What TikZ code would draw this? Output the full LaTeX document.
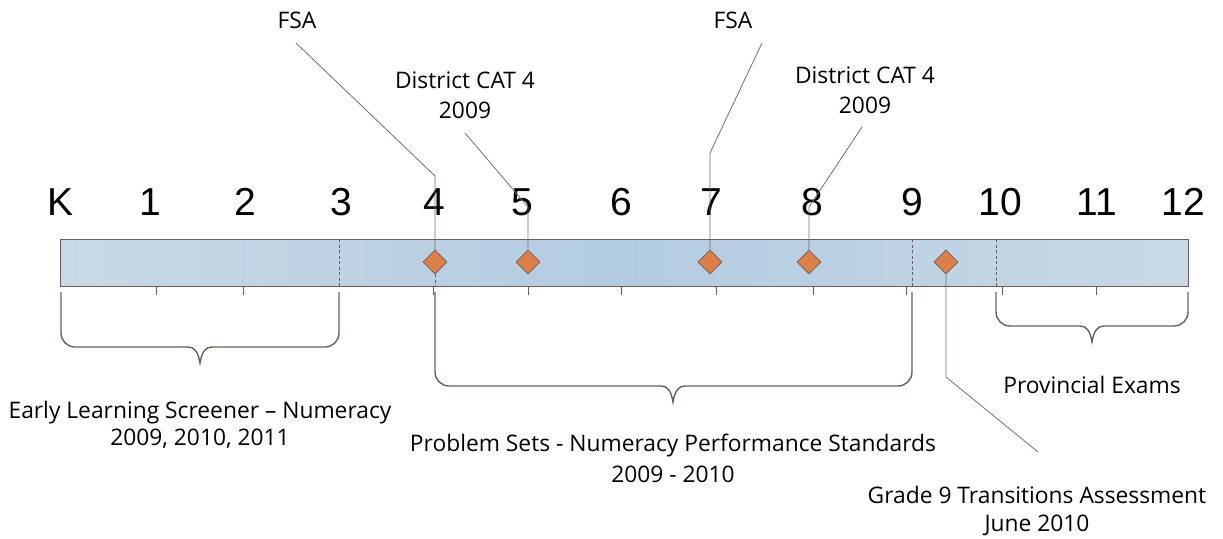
\documentclass[tikz,border=0pt]{standalone}
\usepackage{fontspec}
\setmainfont{Open Sans}
\newfontfamily\numfont{Liberation Sans}
\usetikzlibrary{shapes.geometric}
\definecolor{barL}{HTML}{C8D9E7}
\definecolor{barM}{HTML}{B3CBE0}
\definecolor{edge}{HTML}{6E5D57}
\definecolor{lineC}{HTML}{7D6A62}
\definecolor{orangeD}{HTML}{DD7F48}
\begin{document}
\begin{tikzpicture}[x=1pt,y=-1pt,
  grade/.style={font=\numfont\fontsize{39}{39}\selectfont, anchor=base, inner sep=0},
  lbl/.style={font=\fontsize{22.8}{26}\selectfont, anchor=base, inner sep=0},
  dmd/.style={diamond, draw=edge, line width=0.7pt, fill=orangeD, minimum size=24pt, inner sep=0},
  conn/.style={draw=lineC, line width=0.8pt},
  tick/.style={draw=edge, line width=0.8pt},
  brace/.style={draw=edge, line width=1.4pt, rounded corners=14pt},
  sep/.style={draw=edge, line width=0.8pt, dash pattern=on 3pt off 2.5pt}]
\useasboundingbox (0,0) rectangle (1223,538);
% bar
\path[left color=barL, right color=barL, middle color=barM] (60,239) rectangle (1188,286);
\draw[edge, line width=0.9pt] (60,239) rectangle (1188,286);
\draw[sep] (339,239) -- (339,286);
\draw[sep] (912,239) -- (912,286);
\draw[sep] (996,239) -- (996,286);
\draw[sep] (1188,239) -- (1188,286);
\draw[sep] (435,274) -- (435,286);
% ticks
\foreach \x in {156,243,433,528,621,716,813,906,1002,1096} \draw[tick] (\x,286) -- (\x,295);
% grade numbers
\node[grade] (gK) at (61,215) {K};
\node[grade] (g1) at (150,215) {1};
\node[grade] (g2) at (245,215) {2};
\node[grade] (g3) at (341,215) {3};
\node[grade] (g4) at (434,215) {4};
\node[grade] (g5) at (522,215) {5};
\node[grade] (g6) at (621,215) {6};
\node[grade] (g7) at (711,215) {7};
\node[grade] (g8) at (812,215) {8};
\node[grade] (g9) at (912,215) {9};
\node[grade] (g10) at (1000,215) {10};
\node[grade] (g11) at (1097,215) {11};
\node[grade] (g12) at (1183,215) {12};
% diamonds
\node[dmd] (d4) at (435,262) {};
\node[dmd] (d5) at (528,262) {};
\node[dmd] (d7) at (710,262) {};
\node[dmd] (d8) at (809,262) {};
\node[dmd] (d9) at (946,262) {};
% labels
\node[lbl] (fsaA) at (297,28) {FSA};
\node[lbl] (catA1) at (465,88) {District CAT 4};
\node[lbl] (catA2) at (465,118) {2009};
\node[lbl] (fsaB) at (733,28) {FSA};
\node[lbl] (catB1) at (865,83) {District CAT 4};
\node[lbl] (catB2) at (865,113) {2009};
\node[lbl] (els1) at (200,418) {Early Learning Screener – Numeracy};
\node[lbl] (els2) at (200,445) {2009, 2010, 2011};
\node[lbl] (ps1) at (673,451) {Problem Sets - Numeracy Performance Standards};
\node[lbl] (ps2) at (673,482) {2009 - 2010};
\node[lbl] (pe) at (1092,393) {Provincial Exams};
\node[lbl] (gt1) at (1037,503) {Grade 9 Transitions Assessment};
\node[lbl] (gt2) at (1037,531) {June 2010};
% connector end/bend coordinates
\coordinate (fsaAe) at (296,43);
\coordinate (fsaAb) at (435,176);
\coordinate (catAe) at (465,133);
\coordinate (catAb) at (528,207);
\coordinate (fsaBe) at (762,43);
\coordinate (fsaBb) at (710,153);
\coordinate (catBe) at (862,127);
\coordinate (catBb) at (809,207);
\coordinate (gtb) at (946,377);
\coordinate (gte) at (1038,452);
\draw[conn] (fsaAe) -- (fsaAb) -- (d4.north);
\draw[conn] (catAe) -- (catAb) -- (d5.north);
\draw[conn] (fsaBe) -- (fsaBb) -- (d7.north);
\draw[conn] (catBe) -- (catBb) -- (d8.north);
\draw[conn] (d9.south) -- (gtb) -- (gte);
% braces
\draw[brace] (61,292) -- (61,347) -- (188,347);
\draw[brace] (339,292) -- (339,347) -- (212,347);
\draw[draw=edge, line width=1.4pt] (188,347) .. controls (194,347) and (198,351) .. (200,363) .. controls (202,351) and (206,347) .. (212,347);
\draw[brace] (435,292) -- (435,386) -- (661,386);
\draw[brace] (912,292) -- (912,386) -- (685,386);
\draw[draw=edge, line width=1.4pt] (661,386) .. controls (667,386) and (671,390) .. (673,402) .. controls (675,390) and (679,386) .. (685,386);
\draw[brace] (996,292) -- (996,326) -- (1080,326);
\draw[brace] (1188,292) -- (1188,326) -- (1104,326);
\draw[draw=edge, line width=1.4pt] (1080,326) .. controls (1086,326) and (1090,330) .. (1092,342) .. controls (1094,330) and (1098,326) .. (1104,326);
\end{tikzpicture}
\end{document}
